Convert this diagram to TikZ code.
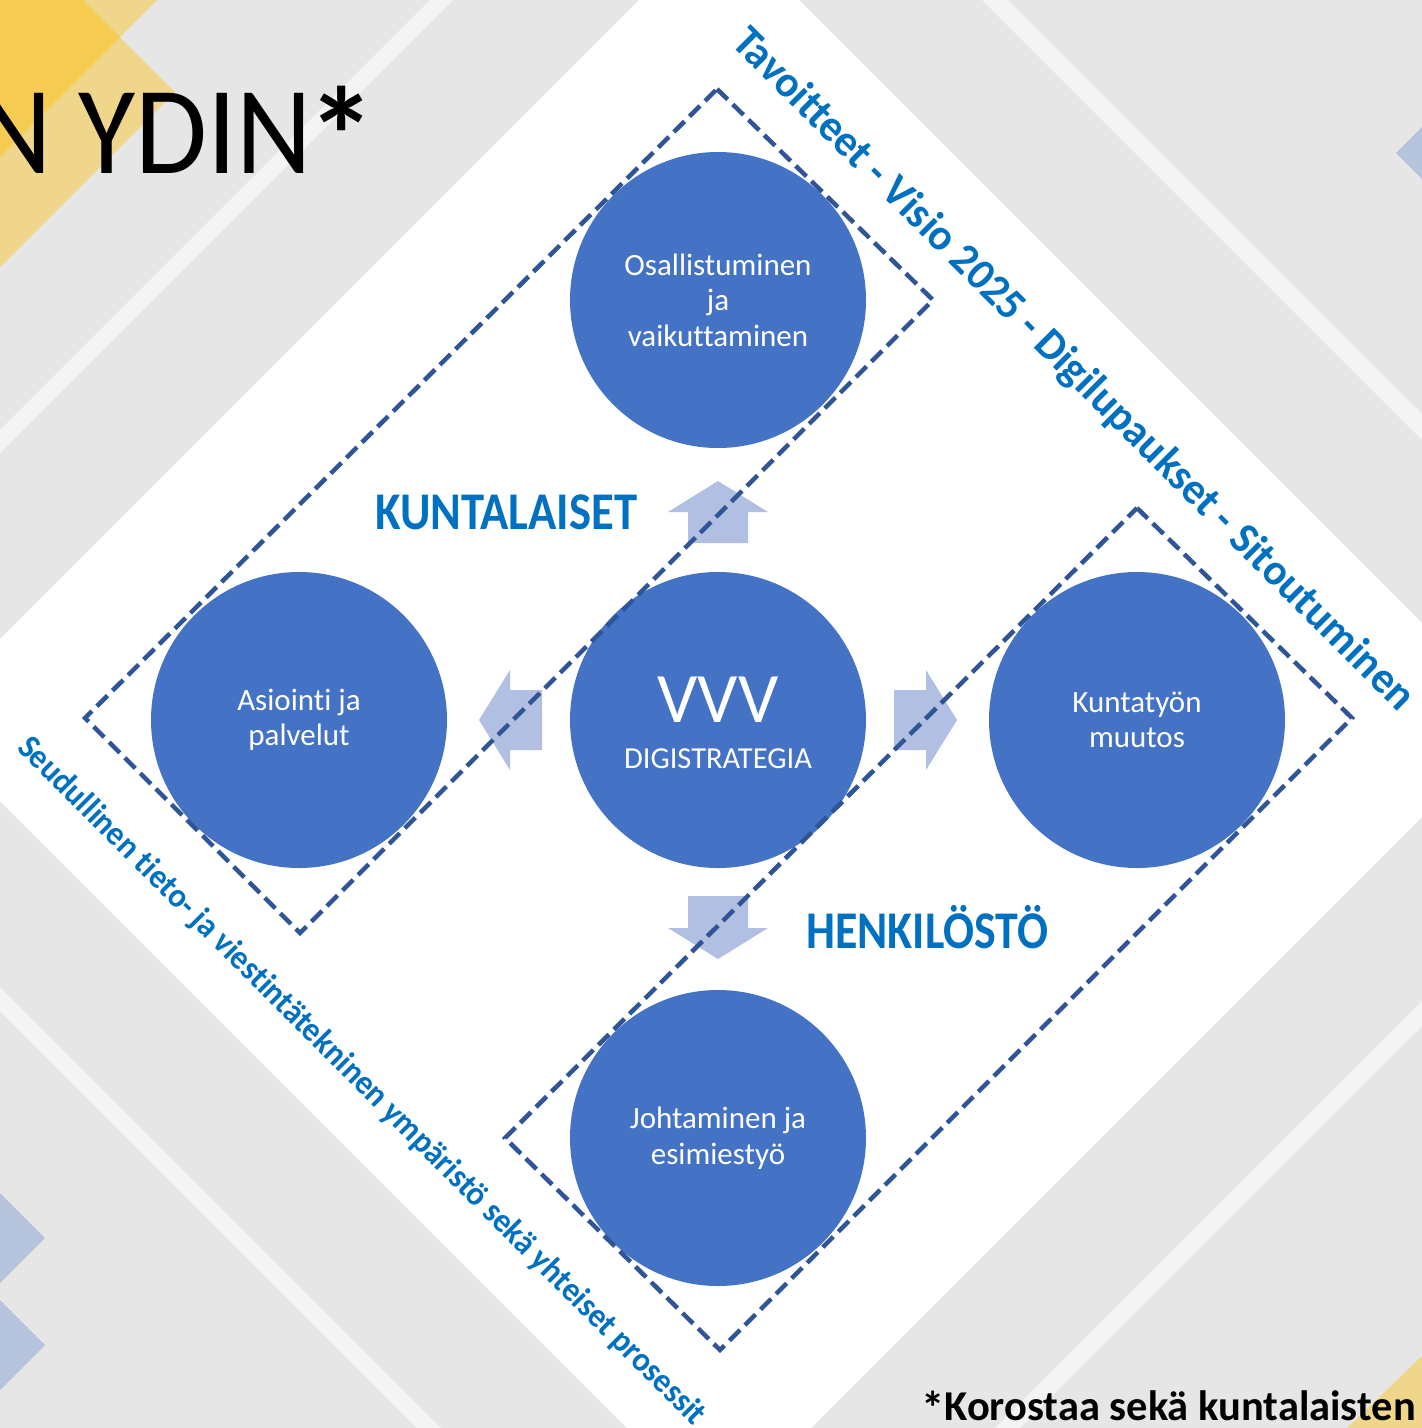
\documentclass[tikz,border=0pt]{standalone}
\usepackage{fontspec}
\setmainfont{Carlito}[Ligatures={NoCommon}]
\usepackage{graphicx}
\definecolor{bggray}{HTML}{E6E6E6}
\definecolor{stripe}{HTML}{F4F4F4}
\definecolor{yel}{HTML}{FFC000}
\definecolor{diablue}{RGB}{181,195,221}
\definecolor{circblue}{HTML}{4472C4}
\definecolor{dashblue}{HTML}{2F5597}
\definecolor{textblue}{HTML}{0070C0}
\definecolor{arrowblue}{RGB}{177,191,226}
\begin{document}
\begin{tikzpicture}[x=1pt,y=-1pt,
  circ/.style={circle, fill=circblue, minimum size=296pt, inner sep=0pt, text=white, align=center, font=\fontsize{31}{35.5}\selectfont},
  dashbox/.style={draw=dashblue, line width=4.5pt, dash pattern=on 15pt off 7pt},
  blockarrow/.style={fill=arrowblue},
  heading/.style={text=textblue, anchor=base west, inner sep=0pt, font=\bfseries\fontsize{53}{53}\selectfont},
  sidetext/.style={text=textblue, anchor=base west, inner sep=0pt, rotate=-45},
  yellowpart/.style={fill=yel, fill opacity=0.4},
  lightstripe/.style={fill=stripe}
]
\useasboundingbox (0,0) rectangle (1422,1428);
\clip (0,0) rectangle (1422,1428);
% background
\fill[bggray] (0,0) rectangle (1422,1428);
% light stripes
\fill[lightstripe] (430,0) -- (453,0) -- (0,453) -- (0,430) -- cycle;
\fill[lightstripe] (982,0) -- (1008,0) -- (1500,492) -- (1500,518) -- cycle;
\fill[lightstripe] (0,987) -- (0,1011) -- (500,1511) -- (500,1487) -- cycle;
\fill[lightstripe] (1500,923) -- (1500,948) -- (948,1500) -- (923,1500) -- cycle;
% yellow decorations
\fill[yellowpart] (-50,-50) -- (207,-50) -- (-50,207) -- cycle;
\fill[yellowpart] (-50,-133) -- (175,92) -- (-50,317) -- cycle;
\fill[yellowpart] (1422,1356) -- (1500,1278) -- (1500,1500) -- (1272,1500) -- cycle;
% light blue diamonds
\fill[diablue] (45,1238) -- (0,1193) -- (-45,1238) -- (0,1283) -- cycle;
\fill[diablue] (45,1345) -- (0,1300) -- (-45,1345) -- (0,1390) -- cycle;
\fill[diablue] (1396,153) -- (1441,108) -- (1486,153) -- (1441,198) -- cycle;
% white diamond
\fill[white] (719,-80) -- (1519,720) -- (719,1520) -- (-81,720) -- cycle;
% title
\node[anchor=base west, inner sep=0pt, font=\fontsize{125}{125}\selectfont] (title) at (-24,173) {\resizebox{336pt}{\height}{N YDIN}\hspace{-5pt}\raisebox{-11pt}{\scalebox{1.1}{\bfseries *}}};
% circles
\node[circ] (osal) at (718,300) {Osallistuminen\\ja\\vaikuttaminen};
\node[circ] (asio) at (299,720) {Asiointi ja\\palvelut};
\node[circ] (vvv) at (718,720) {};
\node[circ] (kunt) at (1137,720) {Kuntatyön\\muutos};
\node[circ] (joht) at (718,1138) {Johtaminen ja\\esimiestyö};
\node[anchor=base, inner sep=0pt, text=white, font=\fontsize{71}{71}\selectfont] (vvvt) at (718,722) {VVV};
\node[anchor=base, inner sep=0pt, text=white, font=\fontsize{30.5}{30.5}\selectfont] (digi) at (718,768) {DIGISTRATEGIA};
% block arrows
\fill[blockarrow] (718,481) -- (768,512) -- (748,512) -- (748,543) -- (688,543) -- (688,512) -- (668,512) -- cycle;
\fill[blockarrow] (479,720) -- (510,670) -- (510,690) -- (542,690) -- (542,750) -- (510,750) -- (510,770) -- cycle;
\fill[blockarrow] (957,720) -- (926,670) -- (926,690) -- (894,690) -- (894,750) -- (926,750) -- (926,770) -- cycle;
\fill[blockarrow] (718,959) -- (768,928) -- (748,928) -- (748,896) -- (688,896) -- (688,928) -- (668,928) -- cycle;
% dashed frames
\coordinate (a1) at (717,89);
\coordinate (a2) at (933,300);
\coordinate (a3) at (300,933);
\coordinate (a4) at (85,718);
\coordinate (b1) at (1137,508);
\coordinate (b2) at (1352,718);
\coordinate (b3) at (720,1350);
\coordinate (b4) at (505,1138);
\draw[dashbox] (a1) -- (a2) -- (a3) -- (a4) -- cycle;
\draw[dashbox] (b1) -- (b2) -- (b3) -- (b4) -- cycle;
% headings
\node[heading] (kuntalaiset) at (375,529) {\resizebox{262pt}{\height}{KUNTALAISET}};
\node[heading] (henkilosto) at (806,948) {\resizebox{242pt}{\height}{HENKILÖSTÖ}};
% side texts
\node[sidetext, font=\bfseries\fontsize{44}{44}\selectfont] (tavoitteet) at (730,44) {\resizebox{945pt}{\height}{Tavoitteet - Visio 2025 - Digilupaukset - Sitoutuminen}};
\node[sidetext, font=\bfseries\fontsize{34}{34}\selectfont] (seudullinen) at (16,749) {\resizebox{958pt}{\height}{Seudullinen tieto- ja viestintätekninen ympäristö sekä yhteiset prosessit}};
% footnote
\node[anchor=base west, inner sep=0pt, font=\bfseries\fontsize{42.5}{42.5}\selectfont] (note) at (921,1420) {\raisebox{-4pt}{\scalebox{1.1}{*}}Korostaa sekä kuntalaisten};
\end{tikzpicture}
\end{document}
